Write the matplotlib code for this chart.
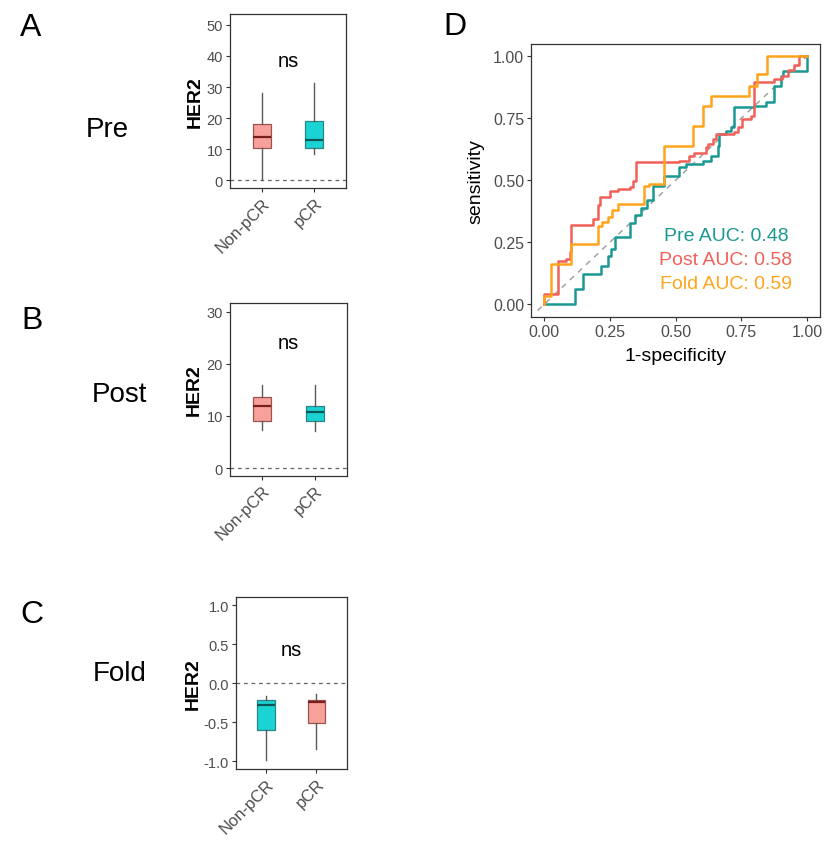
import matplotlib
matplotlib.use('Agg')
import matplotlib.pyplot as plt
import matplotlib.transforms as mtransforms

plt.rcParams['font.family'] = ['Liberation Sans', 'DejaVu Sans']

W, H = 836, 862

groups = ['Non-pCR', 'pCR']

# box statistics: (whislo, q1, med, q3, whishi)
pre_stats = [(0.0, 10.3, 14.0, 18.1, 28.1), (8.6, 10.5, 13.0, 19.1, 31.2)]
post_stats = [(7.4, 9.1, 11.9, 13.6, 15.9), (7.2, 9.1, 10.85, 12.0, 15.9)]
fold_stats = [(-0.99, -0.594, -0.279, -0.21, -0.168), (-0.85, -0.509, -0.236, -0.21, -0.138)]

pre_ticks = [0, 10, 20, 30, 40, 50]
post_ticks = [0, 10, 20, 30]
fold_ticks = [-1.0, -0.5, 0.0, 0.5, 1.0]

# ROC curves (step corners)
pre_fpr = [0, 0.117, 0.148, 0.218, 0.243, 0.255, 0.268, 0.325, 0.345, 0.370, 0.390, 0.414, 0.458,
           0.513, 0.541, 0.604, 0.636, 0.661, 0.665, 0.692, 0.710, 0.721, 0.800, 0.844, 0.876,
           0.901, 0.910, 1.0]
pre_tpr = [0, 0.062, 0.122, 0.156, 0.196, 0.223, 0.270, 0.328, 0.360, 0.390, 0.420, 0.478, 0.519,
           0.552, 0.566, 0.579, 0.599, 0.640, 0.687, 0.700, 0.714, 0.794, 0.801, 0.815, 0.881,
           0.922, 0.942, 1.0]
post_fpr = [0, 0, 0.053, 0.085, 0.100, 0.104, 0.186, 0.205, 0.211, 0.249, 0.281, 0.325, 0.340,
            0.351, 0.515, 0.553, 0.572, 0.617, 0.623, 0.642, 0.655, 0.724, 0.737, 0.755, 0.787,
            0.800, 0.876, 0.907, 0.930, 0.950, 0.970, 1.0]
post_tpr = [0, 0.040, 0.176, 0.183, 0.210, 0.320, 0.344, 0.400, 0.431, 0.458, 0.465, 0.472, 0.498,
            0.575, 0.579, 0.599, 0.612, 0.633, 0.646, 0.667, 0.687, 0.694, 0.714, 0.748, 0.761,
            0.895, 0.909, 0.922, 0.945, 0.965, 1.0, 1.0]
fold_fpr = [0, 0, 0.028, 0.104, 0.205, 0.220, 0.243, 0.260, 0.281, 0.382, 0.401, 0.458, 0.566,
            0.604, 0.636, 0.781, 0.812, 0.850, 1.0]
fold_tpr = [0, 0.035, 0.163, 0.243, 0.317, 0.330, 0.351, 0.380, 0.404, 0.478, 0.485, 0.640, 0.718,
            0.801, 0.839, 0.881, 0.928, 1.0, 1.0]

auc_labels = ['Pre AUC: 0.48', 'Post AUC: 0.58', 'Fold AUC: 0.59']
roc_ticks = [0, 0.25, 0.5, 0.75, 1.0]

PINK, PINK_EDGE, PINK_MED = '#F8A09A', '#9A5350', '#7A1E1E'
CYAN, CYAN_EDGE, CYAN_MED = '#1CD3D3', '#2A8586', '#0B5656'
TEAL, RED, ORANGE = '#1A9993', '#F2605A', '#FFA41C'
TXT = '#4D4D4D'


def px_rect(l, t, r, b):
    return [l / W, 1 - b / H, (r - l) / W, (b - t) / H]


fig = plt.figure(figsize=(W / 100, H / 100), dpi=100)


def box_panel(rect, stats, colors, ylim, yticks, ytl, ns_y, lab_x):
    ax = fig.add_axes(rect)
    ax.axhline(0, color='#666666', ls=(0, (3, 3)), lw=0.9, zorder=1)
    bs = [dict(whislo=s[0], q1=s[1], med=s[2], q3=s[3], whishi=s[4], fliers=[]) for s in stats]
    res = ax.bxp(bs, positions=[1, 2], widths=0.34, patch_artist=True, showcaps=False,
                 showfliers=False, whiskerprops=dict(color='#5a5a5a', lw=1.0),
                 medianprops=dict(lw=1.6), zorder=2)
    for patch, med, (fc, ec, mc) in zip(res['boxes'], res['medians'], colors):
        patch.set_facecolor(fc)
        patch.set_edgecolor(ec)
        patch.set_linewidth(0.9)
        med.set_color(mc)
    ax.set_xlim(0.4, 2.6)
    ax.set_ylim(*ylim)
    ax.set_yticks(yticks)
    ax.set_yticklabels(ytl)
    ax.set_xticks([1, 2])
    ax.set_xticklabels(groups, rotation=45, ha='right', va='top', rotation_mode='anchor')
    off = mtransforms.ScaledTranslation(11 / 100, 0, fig.dpi_scale_trans)
    for lbl in ax.get_xticklabels():
        lbl.set_transform(lbl.get_transform() + off)
    ax.tick_params(direction='out', length=3, width=0.8, color='#333333',
                   labelsize=10.5, labelcolor=TXT, pad=2)
    ax.tick_params(axis='x', labelsize=12)
    for sp in ax.spines.values():
        sp.set_color('#333333')
        sp.set_linewidth(0.9)
    ax.set_ylabel('HER2', fontsize=14, fontweight='bold')
    ax.yaxis.set_label_coords(lab_x, 0.5)
    ax.text(1.5, ns_y, 'ns', ha='center', va='baseline', fontsize=14.5)
    return ax


pink = (PINK, PINK_EDGE, PINK_MED)
cyan = (CYAN, CYAN_EDGE, CYAN_MED)

box_panel(px_rect(230, 15, 346, 189.3), pre_stats, [pink, cyan], (-2.6, 53.5),
          pre_ticks, [str(t) for t in pre_ticks], 36.9, -0.23)
box_panel(px_rect(230, 304, 346.7, 476.7), post_stats, [pink, cyan], (-1.45, 31.65),
          post_ticks, [str(t) for t in post_ticks], 23.0, -0.234)
box_panel(px_rect(235.7, 598.3, 346.7, 770), fold_stats, [cyan, pink], (-1.1, 1.1),
          fold_ticks, ['%.1f' % t for t in fold_ticks], 0.36, -0.306)

# ROC panel
ax = fig.add_axes(px_rect(531, 45, 820, 317.7))
ax.plot([-0.025, 1.02], [-0.025, 1.02], color='#9a9a9a', ls=(0, (4, 4)), lw=1.0)
for fpr, tpr, c in [(pre_fpr, pre_tpr, TEAL), (post_fpr, post_tpr, RED), (fold_fpr, fold_tpr, ORANGE)]:
    ax.step(fpr, tpr, where='post', color=c, lw=1.8)
ax.set_xlim(-0.05, 1.05)
ax.set_ylim(-0.05, 1.05)
ax.set_xticks(roc_ticks)
ax.set_yticks(roc_ticks)
ax.set_xticklabels(['%.2f' % t for t in roc_ticks])
ax.set_yticklabels(['%.2f' % t for t in roc_ticks])
ax.tick_params(direction='out', length=3, width=0.8, color='#333333',
               labelsize=11.5, labelcolor=TXT, pad=2)
for sp in ax.spines.values():
    sp.set_color('#333333')
    sp.set_linewidth(0.9)
ax.set_xlabel('1-specificity', fontsize=14)
ax.set_ylabel('sensitivity', fontsize=14)
ax.xaxis.set_label_coords(0.5, -0.11)
ax.yaxis.set_label_coords(-0.16, 0.5)
for lab, yy, c in zip(auc_labels, [0.26, 0.163, 0.065], [TEAL, RED, ORANGE]):
    ax.text(0.692, yy, lab, color=c, ha='center', va='baseline', fontsize=14)

# panel letters and row names
for s, x, y, fs in [('A', 20, 36, 23), ('B', 21.7, 329.3, 23), ('C', 20, 622.7, 23), ('D', 443.3, 35, 23),
                    ('Pre', 86, 136.7, 20), ('Post', 91.7, 401.7, 20), ('Fold', 92.7, 681, 20)]:
    fig.text(x / W, 1 - y / H, s, ha='left', va='baseline', fontsize=fs)

fig.savefig('out.png', dpi=100, facecolor='white')
